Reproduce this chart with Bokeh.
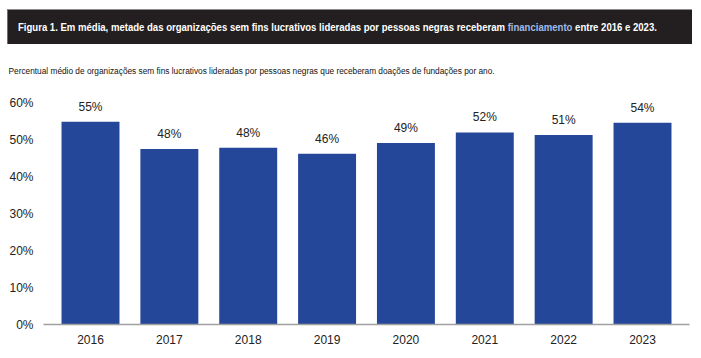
from bokeh.plotting import figure
from bokeh.models import FactorRange, Range1d, FixedTicker, ColumnDataSource, Div
from bokeh.layouts import column
from bokeh.embed import file_html
from bokeh.resources import INLINE

# ---- data ----
years = ["2016", "2017", "2018", "2019", "2020", "2021", "2022", "2023"]
values = [55.0, 47.6, 47.9, 46.3, 49.2, 52.1, 51.4, 54.7]
value_labels = ["55%", "48%", "48%", "46%", "49%", "52%", "51%", "54%"]
yticks = [0, 10, 20, 30, 40, 50, 60]
ytick_labels = ["0%", "10%", "20%", "30%", "40%", "50%", "60%"]

title_before = "Figura 1. Em média, metade das organizações sem fins lucrativos lideradas por pessoas negras receberam"
title_link = "financiamento"
title_after = "entre 2016 e 2023."
subtitle = ("Percentual médio de organizações sem fins lucrativos lideradas por pessoas negras "
            "que receberam doações de fundações por ano.")

FONT = "Liberation Sans"
DARK = "#231f20"
BAR = "#25479a"
LINK = "#9fbbea"

# ---- header (HTML block) ----
header_html = (
    f'<div style="width:685px;height:35px;box-sizing:border-box;background:{DARK};'
    f'border-top:1px solid #8c8c8c;border-left:1px solid #6f6f6f;overflow:hidden;white-space:nowrap;">'
    f'<span style="display:inline-block;transform:scaleX(0.91);transform-origin:0 50%;'
    f'margin-left:10px;line-height:34px;font-family:\'Liberation Sans\',Arial,sans-serif;'
    f'font-weight:bold;font-size:10.5px;color:#ffffff;">'
    f'{title_before} <span style="color:{LINK};">{title_link}</span> {title_after}</span></div>'
)
head = Div(text=header_html, width=685, height=35, margin=(9, 0, 0, 7))

# ---- main chart ----
src = ColumnDataSource(dict(x=years, top=values, lab=value_labels))

p = figure(width=693, height=310, toolbar_location=None, output_backend="svg",
           x_range=FactorRange(factors=years, range_padding=0.024),
           y_range=Range1d(0, 64),
           min_border_left=43, min_border_right=4, min_border_top=44, min_border_bottom=30)
p.vbar(x="x", top="top", width=0.735, source=src, fill_color=BAR, line_color=None)
p.text(x="x", y="top", text="lab", source=src, text_align="center", text_baseline="bottom",
       y_offset=-8, text_font={"value": FONT}, text_font_size="12px", text_color="#222222")

p.title.text = subtitle
p.title.align = "left"
p.title.offset = -35
p.title.standoff = 26
p.title.text_font = FONT
p.title.text_font_size = "8.3px"
p.title.text_font_style = "normal"
p.title.text_color = "#111111"

p.grid.visible = False
p.outline_line_color = None
p.background_fill_color = "white"
p.border_fill_color = "white"

p.yaxis.ticker = FixedTicker(ticks=yticks)
p.yaxis.major_label_overrides = {t: l for t, l in zip(yticks, ytick_labels)}
p.yaxis.axis_line_color = None
p.yaxis.major_tick_line_color = None
p.yaxis.minor_tick_line_color = None
p.yaxis.major_tick_out = 0
p.yaxis.major_tick_in = 0
p.yaxis.major_label_standoff = 10
p.yaxis.major_label_text_font = FONT
p.yaxis.major_label_text_font_size = "12px"
p.yaxis.major_label_text_color = "#222222"

p.xaxis.axis_line_color = "#a0a0a0"
p.xaxis.axis_line_width = 1.5
p.xaxis.major_tick_line_color = None
p.xaxis.minor_tick_line_color = None
p.xaxis.major_tick_out = 0
p.xaxis.major_tick_in = 0
p.xaxis.major_label_standoff = 10
p.xaxis.major_label_text_font = FONT
p.xaxis.major_label_text_font_size = "12px"
p.xaxis.major_label_text_color = "#222222"

layout = column(head, p, spacing=0)
open("out.html", "w").write(file_html(layout, INLINE))
